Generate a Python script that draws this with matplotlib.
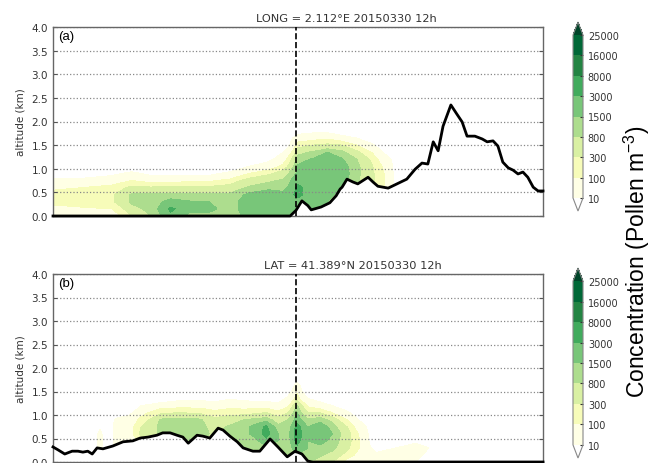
import numpy as np
import matplotlib
matplotlib.use('Agg')
import matplotlib.pyplot as plt
from matplotlib.colors import ListedColormap, BoundaryNorm

# concentration classes (pollen m-3) and their colours
bounds = [10, 100, 300, 800, 1500, 3000, 8000, 16000, 25000]
class_colors = ['#ffffe5', '#f7fcb9', '#d9f0a3', '#addd8e',
                '#78c679', '#41ab5d', '#238443', '#006837']
over_color = '#004529'

# altitude levels of the concentration grid (km)
z_levels = [0.0, 0.15, 0.3, 0.45, 0.6, 0.75, 0.9, 1.05, 1.2, 1.35, 1.5, 1.65, 1.8]

# ---- panel (a): longitude cross-section ----
title_a = 'LONG = 2.112°E 20150330 12h'
cols_a = [0, 6, 12, 16, 20, 24, 28, 32, 36, 40, 44, 47, 50, 53, 56, 59, 62, 65, 68, 71, 74, 100]
# one list per column, from the ground upwards
conc_a = [
    [30, 60, 150, 150, 80, 20, 1, 1, 1, 1, 1, 1, 1],
    [30, 80, 200, 200, 100, 30, 1, 1, 1, 1, 1, 1, 1],
    [40, 100, 250, 250, 150, 50, 5, 1, 1, 1, 1, 1, 1],
    [300, 600, 900, 900, 400, 100, 20, 1, 1, 1, 1, 1, 1],
    [800, 1000, 1000, 900, 350, 60, 5, 1, 1, 1, 1, 1, 1],
    [2500, 3500, 2000, 1000, 400, 60, 5, 1, 1, 1, 1, 1, 1],
    [1200, 1800, 1600, 900, 400, 80, 5, 1, 1, 1, 1, 1, 1],
    [1200, 1800, 1500, 900, 400, 80, 5, 1, 1, 1, 1, 1, 1],
    [900, 1100, 1100, 900, 500, 150, 20, 1, 1, 1, 1, 1, 1],
    [2000, 2200, 2200, 1800, 900, 500, 100, 10, 1, 1, 1, 1, 1],
    [2800, 2800, 2800, 2500, 1200, 700, 250, 40, 5, 1, 1, 1, 1],
    [2500, 2500, 2500, 2000, 1100, 900, 500, 150, 50, 10, 1, 1, 1],
    [2500, 2500, 2500, 3500, 3500, 2500, 1800, 1600, 1200, 600, 200, 40, 3],
    [2000, 2000, 2000, 2200, 2200, 2000, 2000, 1800, 1600, 900, 300, 60, 5],
    [1500, 1500, 1500, 2000, 2200, 2200, 2200, 2000, 1800, 1500, 400, 80, 5],
    [1000, 1000, 1000, 1000, 1500, 2000, 2200, 2000, 1600, 1000, 300, 40, 1],
    [900, 900, 900, 900, 900, 900, 1000, 1000, 800, 400, 100, 10, 1],
    [400, 400, 400, 400, 400, 400, 400, 350, 250, 100, 20, 1, 1],
    [80, 80, 80, 80, 80, 80, 80, 60, 30, 5, 1, 1, 1],
    [1, 1, 1, 1, 1, 1, 1, 1, 1, 1, 1, 1, 1],
    [1, 1, 1, 1, 1, 1, 1, 1, 1, 1, 1, 1, 1],
    [1, 1, 1, 1, 1, 1, 1, 1, 1, 1, 1, 1, 1],
]
terr_x_a = [0, 48.4, 49.6, 50.8, 52.0, 52.7, 54.7, 56.5, 57.1, 57.8,
            58.6, 59.0, 60.0, 61.2, 62.2, 64.3, 65.3, 66.3, 68.4, 70.2,
            72.2, 73.9, 75.3, 76.5, 77.6, 78.6, 79.6, 81.2, 82.4, 83.5,
            84.5, 86.1, 87.6, 88.6, 89.8, 90.8, 91.8, 92.9, 93.9, 94.9,
            95.9, 96.9, 98.0, 99.0, 100]
terr_z_a = [0, 0, 0.12, 0.32, 0.22, 0.13, 0.19, 0.28, 0.35, 0.43,
            0.57, 0.61, 0.78, 0.72, 0.68, 0.82, 0.72, 0.63, 0.59, 0.68,
            0.78, 0.99, 1.12, 1.10, 1.57, 1.38, 1.90, 2.35, 2.16, 1.99,
            1.69, 1.69, 1.63, 1.57, 1.59, 1.48, 1.14, 1.02, 0.97, 0.89,
            0.93, 0.82, 0.61, 0.53, 0.53]

# ---- panel (b): latitude cross-section ----
title_b = 'LAT = 41.389°N 20150330 12h'
cols_b = [0, 8, 9.6, 11, 13, 15.5, 18, 22, 26, 30, 33, 36, 39, 41.5, 43.5,
          46, 48, 49.8, 52, 54.5, 57, 60, 63, 66, 70, 74, 78, 100]
conc_b = [
    [1, 1, 1, 1, 1, 1, 1, 1, 1, 1, 1, 1, 1],
    [1, 1, 1, 1, 1, 1, 1, 1, 1, 1, 1, 1, 1],
    [30, 30, 30, 30, 25, 5, 1, 1, 1, 1, 1, 1, 1],
    [1, 1, 1, 1, 1, 1, 1, 1, 1, 1, 1, 1, 1],
    [40, 40, 40, 40, 40, 40, 20, 1, 1, 1, 1, 1, 1],
    [40, 40, 40, 40, 50, 50, 30, 5, 1, 1, 1, 1, 1],
    [150, 150, 150, 150, 400, 300, 150, 60, 10, 1, 1, 1, 1],
    [900, 900, 900, 900, 900, 1000, 900, 250, 50, 1, 1, 1, 1],
    [1000, 1000, 1000, 1000, 1000, 1000, 1000, 300, 60, 5, 1, 1, 1],
    [1000, 1000, 1000, 1000, 1000, 1000, 900, 250, 60, 5, 1, 1, 1],
    [500, 500, 500, 500, 700, 600, 400, 150, 40, 3, 1, 1, 1],
    [1000, 1000, 1000, 1000, 1000, 900, 500, 200, 60, 8, 1, 1, 1],
    [1200, 1200, 1200, 1200, 1200, 1200, 800, 200, 50, 5, 1, 1, 1],
    [1300, 1300, 1300, 1300, 2000, 2000, 1000, 250, 50, 3, 1, 1, 1],
    [1200, 1200, 1200, 2500, 4000, 3500, 1200, 300, 50, 3, 1, 1, 1],
    [1200, 1200, 1200, 1500, 1500, 1000, 500, 150, 30, 2, 1, 1, 1],
    [900, 900, 1000, 1100, 1200, 1000, 800, 300, 80, 20, 3, 1, 1],
    [1500, 1500, 2500, 4000, 4500, 4000, 2000, 1500, 900, 200, 80, 20, 1],
    [800, 1200, 1500, 1500, 1800, 1500, 900, 300, 80, 10, 1, 1, 1],
    [600, 900, 1200, 2000, 2500, 2200, 1200, 300, 40, 3, 1, 1, 1],
    [300, 600, 1000, 1200, 1500, 1200, 600, 100, 10, 1, 1, 1, 1],
    [60, 200, 400, 500, 500, 300, 100, 20, 1, 1, 1, 1, 1],
    [20, 50, 80, 80, 60, 30, 5, 1, 1, 1, 1, 1, 1],
    [40, 20, 3, 1, 1, 1, 1, 1, 1, 1, 1, 1, 1],
    [40, 40, 10, 1, 1, 1, 1, 1, 1, 1, 1, 1, 1],
    [10, 40, 40, 5, 1, 1, 1, 1, 1, 1, 1, 1, 1],
    [1, 1, 5, 1, 1, 1, 1, 1, 1, 1, 1, 1, 1],
    [1, 1, 1, 1, 1, 1, 1, 1, 1, 1, 1, 1, 1],
]
terr_x_b = [0, 1.0, 2.4, 3.9, 5.1, 6.1, 7.1, 8.0, 9.0, 10.2,
            12.2, 14.3, 16.3, 17.8, 19.4, 21.2, 22.4, 23.9, 25.3, 26.5,
            27.6, 29.4, 30.6, 32.0, 33.7, 34.7, 36.1, 37.6, 38.8, 40.8,
            42.2, 44.3, 45.9, 47.8, 49.4, 50.8, 52.0, 52.9, 100]
terr_z_b = [0.32, 0.26, 0.17, 0.23, 0.23, 0.21, 0.23, 0.17, 0.30, 0.28,
            0.34, 0.43, 0.45, 0.51, 0.53, 0.57, 0.62, 0.62, 0.57, 0.53,
            0.40, 0.57, 0.55, 0.51, 0.72, 0.68, 0.55, 0.43, 0.30, 0.23,
            0.23, 0.49, 0.32, 0.11, 0.23, 0.17, 0.02, 0, 0]

city_x = 49.6
ytick_vals = [0.0, 0.5, 1.0, 1.5, 2.0, 2.5, 3.0, 3.5, 4.0]

W, H = 653, 464
fig = plt.figure(figsize=(W / 100, H / 100), dpi=100)
ax_a = fig.add_axes([53 / W, 1 - 217 / H, 490 / W, 189 / H])
ax_b = fig.add_axes([53 / W, 1 - 463 / H, 490 / W, 188 / H])
cax_a = fig.add_axes([573 / W, 1 - 212 / H, 10 / W, 189 / H])
cax_b = fig.add_axes([573 / W, 1 - 459 / H, 10 / W, 190 / H])

log_levels = np.log10(bounds)


def draw_panel(ax, cax, cols, conc, tx, tz, title, title_x, label):
    cmap = ListedColormap(class_colors)
    cmap.set_under('white')
    cmap.set_over(over_color)
    norm = BoundaryNorm(log_levels, cmap.N)

    field = np.log10(np.array(conc, dtype=float).T)
    cs = ax.contourf(cols, z_levels, field, levels=log_levels, cmap=cmap,
                     norm=norm, extend='both')
    # hide everything under the ground
    ax.fill_between(tx, 0, tz, color='white', lw=0, zorder=1.2)
    ax.plot(tx, tz, color='black', lw=2.0, zorder=3, clip_on=False)
    ax.axvline(city_x, color='black', ls='--', lw=1.2, zorder=3)

    ax.set_xlim(0, 100)
    ax.set_ylim(0, 4)
    ax.set_xticks([])
    ax.set_yticks(ytick_vals)
    ax.set_yticklabels(['%.1f' % v for v in ytick_vals], fontsize=7.5, color='#333333')
    ax.tick_params(axis='y', direction='in', length=3, right=True, color='#555555')
    ax.yaxis.grid(True, linestyle=':', color='#888888', lw=0.9)
    for s in ax.spines.values():
        s.set_color('#666666')
        s.set_linewidth(1.0)
    ax.set_ylabel('altitude (km)', fontsize=7.5, color='#333333', labelpad=4)
    ax.text(title_x, 1.02, title, transform=ax.transAxes, ha='center',
            va='bottom', fontsize=8.2, color='#333333')
    ax.text(0.01, 0.985, label, transform=ax.transAxes, ha='left', va='top',
            fontsize=9.5, family='Liberation Sans')

    cb = fig.colorbar(cs, cax=cax, extendfrac=0.08, ticks=log_levels)
    cb.ax.set_yticklabels([str(b) for b in bounds])
    cb.ax.tick_params(labelsize=7, length=2, direction='in', colors='#333333')
    cb.outline.set_edgecolor('#888888')
    return cs


draw_panel(ax_a, cax_a, cols_a, conc_a, terr_x_a, terr_z_a, title_a, 0.598, '(a)')
draw_panel(ax_b, cax_b, cols_b, conc_b, terr_x_b, terr_z_b, title_b, 0.612, '(b)')

fig.text(637 / W, 1 - 262 / H, 'Concentration (Pollen m$^{\\mathregular{-3}}$)', rotation=90,
         ha='center', va='center', fontsize=16.5, family='Liberation Sans')

fig.savefig('out.png', dpi=100)
